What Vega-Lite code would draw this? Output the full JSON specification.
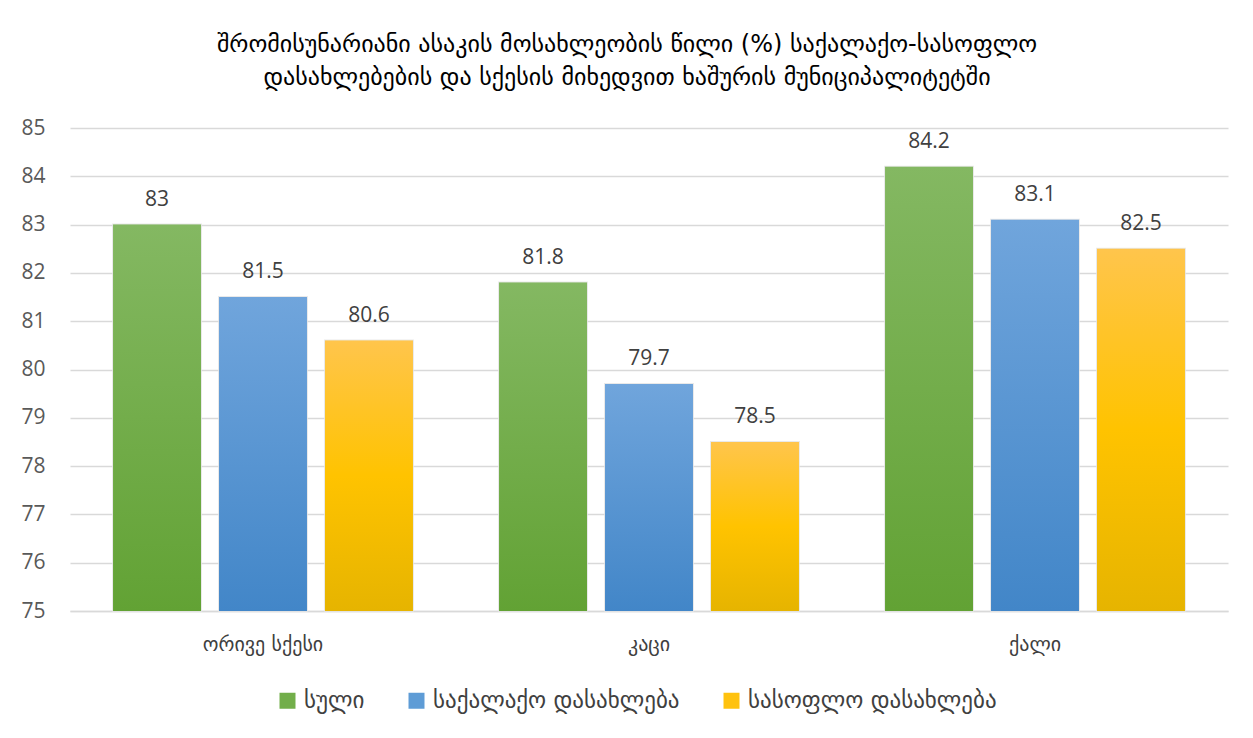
{
  "$schema": "https://vega.github.io/schema/vega-lite/v6.json",
  "width": 1158,
  "height": 483,
  "autosize": {"type": "none"},
  "padding": {"left": 70, "top": 128, "right": 25, "bottom": 127},
  "background": "white",
  "title": {
    "text": ["შრომისუნარიანი ასაკის მოსახლეობის წილი (%) საქალაქო-სასოფლო", "დასახლებების და სქესის მიხედვით ხაშურის მუნიციპალიტეტში"],
    "font": "DejaVu Sans",
    "fontSize": 24,
    "fontWeight": "normal",
    "color": "#000000",
    "lineHeight": 33,
    "anchor": "middle",
    "dx": -22,
    "offset": 27
  },
  "data": {
    "values": [
      {"sex": "ორივე სქესი", "type": "სული", "value": 83},
      {"sex": "ორივე სქესი", "type": "საქალაქო დასახლება", "value": 81.5},
      {"sex": "ორივე სქესი", "type": "სასოფლო დასახლება", "value": 80.6},
      {"sex": "კაცი", "type": "სული", "value": 81.8},
      {"sex": "კაცი", "type": "საქალაქო დასახლება", "value": 79.7},
      {"sex": "კაცი", "type": "სასოფლო დასახლება", "value": 78.5},
      {"sex": "ქალი", "type": "სული", "value": 84.2},
      {"sex": "ქალი", "type": "საქალაქო დასახლება", "value": 83.1},
      {"sex": "ქალი", "type": "სასოფლო დასახლება", "value": 82.5}
    ]
  },
  "encoding": {
    "x": {
      "field": "sex",
      "type": "nominal",
      "sort": ["ორივე სქესი", "კაცი", "ქალი"],
      "scale": {"paddingInner": 0.223, "paddingOuter": 0.1115},
      "axis": {
        "title": null,
        "labelAngle": 0,
        "labelFont": "DejaVu Sans",
        "labelFontSize": 20,
        "labelColor": "#404040",
        "labelPadding": 23,
        "ticks": false,
        "domainColor": "#d9d9d9",
        "domainWidth": 1.5
      }
    },
    "xOffset": {
      "field": "type",
      "type": "nominal",
      "sort": ["სული", "საქალაქო დასახლება", "სასოფლო დასახლება"],
      "scale": {"domain": ["სული", "საქალაქო დასახლება", "სასოფლო დასახლება"], "paddingInner": 0.17, "paddingOuter": 0}
    },
    "y": {
      "field": "value",
      "type": "quantitative",
      "scale": {"domain": [75, 85], "zero": false, "nice": false},
      "axis": {
        "title": null,
        "values": [75, 76, 77, 78, 79, 80, 81, 82, 83, 84, 85],
        "labelFont": "Open Sans",
        "labelFontSize": 21,
        "labelColor": "#595959",
        "labelPadding": 25,
        "ticks": false,
        "domain": false,
        "gridColor": "#d9d9d9",
        "gridWidth": 1.5
      }
    },
    "y2": {"datum": 75}
  },
  "layer": [
    {
      "mark": {"type": "bar", "stroke": "#e3e3e3", "strokeWidth": 2, "strokeOpacity": 0.8},
      "encoding": {
        "color": {
          "field": "type",
          "type": "nominal",
          "sort": ["სული", "საქალაქო დასახლება", "სასოფლო დასახლება"],
          "scale": {
            "domain": ["სული", "საქალაქო დასახლება", "სასოფლო დასახლება"],
            "range": ["#72ae4a", "#5e9cd6", "#ffc20e"]
          },
          "legend": {
            "title": null,
            "orient": "none",
            "legendX": 206,
            "legendY": 561,
            "direction": "horizontal",
            "symbolType": "square",
            "symbolSize": 256,
            "symbolStrokeWidth": 0,
            "symbolOpacity": 1,
            "labelFont": "DejaVu Sans",
            "labelFontSize": 23,
            "labelColor": "#404040",
            "labelOffset": 5,
            "columnPadding": 40,
            "labelLimit": 500
          }
        }
      }
    },
    {
      "transform": [{"filter": "datum.type === 'სული'"}],
      "mark": {"type": "bar", "fill": {"gradient": "linear", "x1": 0, "y1": 0, "x2": 0, "y2": 1, "stops": [{"offset": 0, "color": "#84b862"}, {"offset": 1, "color": "#62a234"}]}}
    },
    {
      "transform": [{"filter": "datum.type === 'საქალაქო დასახლება'"}],
      "mark": {"type": "bar", "fill": {"gradient": "linear", "x1": 0, "y1": 0, "x2": 0, "y2": 1, "stops": [{"offset": 0, "color": "#70a5dc"}, {"offset": 1, "color": "#4286c8"}]}}
    },
    {
      "transform": [{"filter": "datum.type === 'სასოფლო დასახლება'"}],
      "mark": {"type": "bar", "fill": {"gradient": "linear", "x1": 0, "y1": 0, "x2": 0, "y2": 1, "stops": [{"offset": 0, "color": "#ffc54c"}, {"offset": 0.5, "color": "#ffc300"}, {"offset": 1, "color": "#e6b400"}]}}
    },
    {
      "mark": {"type": "text", "dy": -25, "font": "Open Sans", "fontSize": 21, "color": "#404040"},
      "encoding": {
        "y2": null,
        "text": {"field": "value", "type": "quantitative"}
      }
    }
  ],
  "config": {
    "view": {"stroke": null}
  }
}
